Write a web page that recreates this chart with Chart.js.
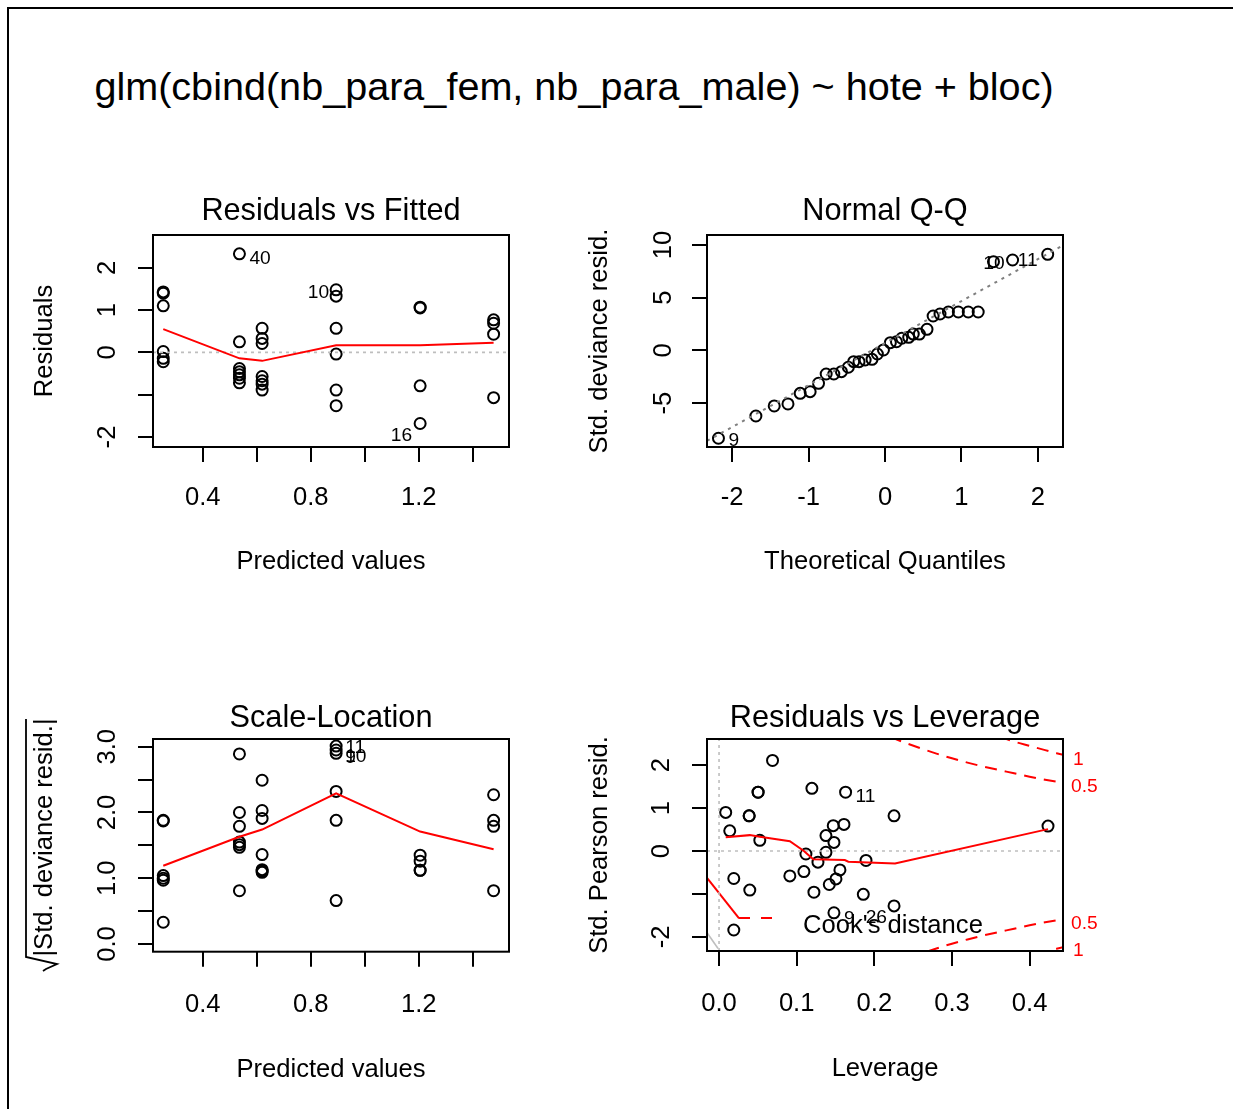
<!DOCTYPE html>
<html>
<head>
<meta charset="utf-8">
<title>glm diagnostics</title>
<script src="https://cdn.jsdelivr.net/npm/chart.js@4.4.1/dist/chart.umd.min.js"></script>
<style>
  html, body { margin:0; padding:0; background:#ffffff; }
  body { width:1233px; height:1109px; position:relative; overflow:hidden; font-family:"Liberation Sans", Arial, Helvetica, sans-serif; }
  #frame { position:absolute; left:7px; top:7px; width:1400px; height:1300px; border-left:2px solid #000; border-top:2px solid #000; box-sizing:border-box; }
  #mainTitle { position:absolute; left:0; top:63px; width:1148px; height:46px; line-height:46px; text-align:center; font-size:39.6px; white-space:nowrap; color:#000; }
  canvas.panel { position:absolute; left:0; top:0; }
</style>
</head>
<body>
<div id="frame"></div>
<div id="mainTitle">glm(cbind(nb_para_fem, nb_para_male) ~ hote + bloc)</div>
<canvas class="panel" id="p1" width="1233" height="1109"></canvas>
<canvas class="panel" id="p2" width="1233" height="1109"></canvas>
<canvas class="panel" id="p3" width="1233" height="1109"></canvas>
<canvas class="panel" id="p4" width="1233" height="1109"></canvas>
<script>
// ================= DATA =================
// Panel 1 & 3: fitted (predicted) values
const fittedValues = [
  0.254,0.254,0.254,0.254,0.254,0.254,
  0.536,0.536,0.536,0.536,0.536,0.536,0.536,
  0.620,0.620,0.620,0.620,0.620,0.620,0.620,
  0.894,0.894,0.894,0.894,0.894,0.894,
  1.205,1.205,1.205,1.205,
  1.477,1.477,1.477,1.477
];
const residualValues = [
  1.43,1.40,1.10,0.02,-0.14,-0.22,
  2.33,0.25,-0.38,-0.46,-0.53,-0.61,-0.72,
  0.57,0.33,0.21,-0.57,-0.67,-0.75,-0.89,
  1.48,1.33,0.57,-0.04,-0.89,-1.26,
  1.07,1.05,-0.79,-1.68,
  0.77,0.69,0.43,-1.07
];
const rfSmoothX = [0.254,0.536,0.620,0.894,1.205,1.477];
const rfSmoothY = [0.55,-0.14,-0.20,0.17,0.17,0.23];
const rfIdText = ['40','10','16'];
const rfIdX = [0.536,0.894,1.205];
const rfIdY = [2.33,1.48,-1.68];
const rfXTicks = [0.4,0.6,0.8,1.0,1.2,1.4];
const rfXTickLabels = ['0.4','','0.8','','1.2',''];
const rfYTicks = [-2,-1,0,1,2];
const rfYTickLabels = ['-2','','0','1','2'];

// Panel 2: Normal Q-Q
const qqTheoretical = [-2.18,-1.69,-1.45,-1.27,-1.11,-0.98,-0.87,-0.77,-0.67,-0.57,-0.48,-0.41,-0.34,-0.26,-0.17,-0.10,-0.02,
  0.07,0.15,0.22,0.31,0.37,0.45,0.55,0.63,0.72,0.83,0.96,1.09,1.22,1.42,1.67,2.13];
const qqStdDevResid = [-8.32,-6.21,-5.26,-5.07,-4.06,-3.90,-3.11,-2.23,-2.23,-2.01,-1.59,-1.06,-1.06,-0.90,-0.84,-0.33,0.05,
  0.74,0.83,1.16,1.25,1.56,1.56,2.01,3.27,3.46,3.65,3.65,3.65,3.65,8.42,8.58,9.12];
const qqLineX = [-2.33,2.33];
const qqLineY = [-8.57,9.97];
const qqIdText = ['9','10','11'];
const qqIdX = [-2.18,1.67,2.13];
const qqIdY = [-8.32,8.58,9.12];
const qqXTicks = [-2,-1,0,1,2];
const qqXTickLabels = ['-2','-1','0','1','2'];
const qqYTicks = [-5,0,5,10];
const qqYTickLabels = ['-5','0','5','10'];

// Panel 3: Scale-Location
const sqrtAbsStdResid = [
  1.88,1.87,1.04,1.00,0.97,0.33,
  2.89,2.00,1.79,1.55,1.51,1.47,0.81,
  2.49,2.03,1.91,1.36,1.13,1.11,1.09,
  3.01,2.95,2.90,2.32,1.88,0.66,
  1.35,1.26,1.12,1.12,
  2.27,1.88,1.79,0.81
];
const slSmoothX = [0.254,0.536,0.620,0.894,1.205,1.477];
const slSmoothY = [1.19,1.63,1.74,2.29,1.71,1.44];
const slIdText = ['11','10','9'];
const slIdX = [0.894,0.894,0.894];
const slIdY = [3.01,2.95,2.90];
const slYTicks = [0,0.5,1,1.5,2,2.5,3];
const slYTickLabels = ['0.0','','1.0','','2.0','','3.0'];

// Panel 4: Residuals vs Leverage
const leverageValues = [0.0086,0.0138,0.019,0.019,0.0388,0.0388,0.0396,0.0503,0.0503,0.0525,0.0689,0.0912,0.1093,0.1119,0.1196,0.1222,
  0.1274,0.1377,0.1377,0.142,0.1471,0.148,0.148,0.1506,0.1557,0.1609,0.163,0.1858,0.1893,0.2254,0.2254,0.4237];
const stdPearsonResid = [0.90,0.47,-0.64,-1.84,0.82,0.82,-0.91,1.37,1.37,0.25,2.11,-0.58,-0.48,-0.07,1.46,-0.96,
  -0.26,0.36,-0.03,-0.78,0.59,0.20,-1.44,-0.65,-0.44,0.62,1.37,-1.01,-0.22,0.82,-1.28,0.58];
const rlSmoothX = [0.0086,0.0396,0.0525,0.0912,0.1093,0.1213,0.162,0.1665,0.2267,0.4237];
const rlSmoothY = [0.32,0.37,0.33,0.23,0.0,-0.19,-0.21,-0.25,-0.29,0.51];
const cookHalfX = [0.22,0.24,0.26,0.28,0.30,0.32,0.34,0.36,0.38,0.40,0.42,0.443];
const cookHalfUpper = [2.66,2.52,2.39,2.27,2.16,2.06,1.97,1.89,1.81,1.73,1.66,1.59];
const cookHalfLower = [-2.66,-2.52,-2.39,-2.27,-2.16,-2.06,-1.97,-1.89,-1.81,-1.73,-1.66,-1.59];
const cookOneX = [0.36,0.38,0.40,0.42,0.443];
const cookOneUpper = [2.67,2.55,2.45,2.35,2.24];
const cookOneLower = [-2.67,-2.55,-2.45,-2.35,-2.24];
const cookLabelText = ['1','0.5','0.5','1'];
const cookLabelY = [2.12,1.50,-1.70,-2.33];
const rlRedStubX = [-0.0185,0.0258];
const rlRedStubY = [-0.56,-1.57];
const rlGrayStubX = [-0.0163,-0.0013];
const rlGrayStubY = [-1.88,-2.27];
const rlIdText = ['11','9','26'];
const rlIdX = [0.163,0.148,0.2254];
const rlIdY = [1.37,-1.44,-1.28];
const rlXTicks = [0,0.1,0.2,0.3,0.4];
const rlXTickLabels = ['0.0','0.1','0.2','0.3','0.4'];
const rlYTicks = [-2,-1,0,1,2];
const rlYTickLabels = ['-2','','0','1','2'];

// ================= DRAWING =================
const FONT = '"Liberation Sans", Arial, Helvetica, sans-serif';
const AX = 25.6, TITLE = 30.7, IDF = 19.2;
const RED = '#FF0000';
const YW = 140, XH = 150;

const pts = (xs, ys) => xs.map((x, i) => ({x: x, y: ys[i]}));
function circles(xs, ys) {
  return {data: pts(xs, ys), showLine: false, pointStyle: 'circle', pointRadius: 5.5, pointHoverRadius: 5.5,
    pointBorderWidth: 2, pointBorderColor: '#000', pointBackgroundColor: 'rgba(0,0,0,0)',
    borderColor: '#000', backgroundColor: 'rgba(0,0,0,0)', clip: false, order: 2};
}
function line(xs, ys, color, width, dash, smooth) {
  return {data: pts(xs, ys), showLine: true, pointRadius: 0, pointHoverRadius: 0, borderColor: color,
    backgroundColor: color, borderWidth: width, borderDash: dash || [], tension: 0,
    cubicInterpolationMode: smooth ? 'monotone' : 'default', fill: false, order: 1};
}

function makePanel(canvasId, c) {
  const decor = {
    id: 'decor_' + canvasId,
    afterDraw(chart) {
      const ctx = chart.ctx, ca = chart.chartArea;
      const xs = chart.scales.x, ys = chart.scales.y;
      ctx.save();
      ctx.setLineDash([]);
      ctx.strokeStyle = '#000'; ctx.lineWidth = 2;
      ctx.strokeRect(ca.left, ca.top, ca.right - ca.left, ca.bottom - ca.top);
      ctx.fillStyle = '#000';
      ctx.font = AX + 'px ' + FONT;
      ctx.textAlign = 'center'; ctx.textBaseline = 'middle';
      c.yTicks.forEach((v, i) => {
        const lab = c.yTickLabels[i];
        if (!lab) return;
        ctx.save();
        ctx.translate(c.yTickX, ys.getPixelForValue(v));
        ctx.rotate(-Math.PI / 2);
        ctx.fillText(lab, 0, 0);
        ctx.restore();
      });
      ctx.font = TITLE + 'px ' + FONT;
      ctx.fillText(c.title, (ca.left + ca.right) / 2, c.titleY);
      ctx.font = IDF + 'px ' + FONT;
      c.ids.forEach(l => {
        ctx.textAlign = l.dx < 0 ? 'right' : 'left';
        ctx.fillText(l.text, xs.getPixelForValue(l.x) + l.dx, ys.getPixelForValue(l.y) + l.dy);
      });
      if (c.extra) c.extra(ctx, chart);
      ctx.restore();
    }
  };
  const tickFont = {family: FONT, size: AX};
  return new Chart(document.getElementById(canvasId), {
    type: 'scatter',
    data: {datasets: c.datasets},
    options: {
      responsive: false, maintainAspectRatio: false, animation: false, devicePixelRatio: 1, events: [],
      layout: {autoPadding: false, padding: {left: c.L - YW, right: 1233 - c.R, top: c.T, bottom: 1109 - c.B - XH}},
      plugins: {legend: {display: false}, tooltip: {enabled: false}, title: {display: false}},
      scales: {
        x: {
          type: 'linear', position: 'bottom', min: c.xMin, max: c.xMax,
          afterBuildTicks: s => { s.ticks = c.xTicks.map(v => ({value: v})); },
          afterFit: s => { s.height = XH; },
          grid: {display: true, drawOnChartArea: false, drawTicks: true, tickLength: 15, color: '#000', lineWidth: 2},
          border: {display: false},
          ticks: {display: true, autoSkip: false, maxRotation: 0, minRotation: 0, padding: c.xLabelPad, color: '#000',
            font: tickFont, callback: (v, i) => c.xTickLabels[i]},
          title: {display: true, text: c.xTitle, color: '#000', font: tickFont, padding: {top: 0, bottom: c.xTitlePad}}
        },
        y: {
          type: 'linear', position: 'left', min: c.yMin, max: c.yMax,
          afterBuildTicks: s => { s.ticks = c.yTicks.map(v => ({value: v})); },
          afterFit: s => { s.width = YW; },
          grid: {display: true, drawOnChartArea: false, drawTicks: true, tickLength: 15, color: '#000', lineWidth: 2},
          border: {display: false},
          ticks: {display: false},
          title: c.yTitle ? {display: true, text: c.yTitle, color: '#000', font: tickFont, padding: {top: c.yTitlePad, bottom: 0}} : {display: false}
        }
      }
    },
    plugins: [decor]
  });
}

// Panel 1
makePanel('p1', {
  L: 153, R: 509, T: 235, B: 447,
  xMin: 0.216, xMax: 1.534, yMin: -2.236, yMax: 2.775,
  xTicks: rfXTicks, xTickLabels: rfXTickLabels, yTicks: rfYTicks, yTickLabels: rfYTickLabels,
  xLabelPad: 20.4, xTitle: 'Predicted values', xTitlePad: 19.3,
  yTitle: 'Residuals', yTitlePad: 45 - (153 - YW) - 15.36, yTickX: 107.5,
  title: 'Residuals vs Fitted', titleY: 212,
  ids: [
    {text: rfIdText[0], x: rfIdX[0], y: rfIdY[0], dx: 10, dy: 5},
    {text: rfIdText[1], x: rfIdX[1], y: rfIdY[1], dx: -7, dy: 3},
    {text: rfIdText[2], x: rfIdX[2], y: rfIdY[2], dx: -8, dy: 12}
  ],
  datasets: [
    circles(fittedValues, residualValues),
    line(rfSmoothX, rfSmoothY, RED, 2),
    line([0.216, 1.534], [0, 0], '#BEBEBE', 1.6, [3, 4])
  ]
});

// Panel 2
makePanel('p2', {
  L: 707, R: 1063, T: 235, B: 447,
  xMin: -2.33, xMax: 2.33, yMin: -9.15, yMax: 10.95,
  xTicks: qqXTicks, xTickLabels: qqXTickLabels, yTicks: qqYTicks, yTickLabels: qqYTickLabels,
  xLabelPad: 20.4, xTitle: 'Theoretical Quantiles', xTitlePad: 19.3,
  yTitle: 'Std. deviance resid.', yTitlePad: 600 - (707 - YW) - 15.36, yTickX: 663.5,
  title: 'Normal Q-Q', titleY: 212,
  ids: [
    {text: qqIdText[0], x: qqIdX[0], y: qqIdY[0], dx: 10, dy: 2},
    {text: qqIdText[1], x: qqIdX[1], y: qqIdY[1], dx: -8, dy: 4},
    {text: qqIdText[2], x: qqIdX[2], y: qqIdY[2], dx: -10, dy: 6}
  ],
  datasets: [
    circles(qqTheoretical, qqStdDevResid),
    line(qqLineX, qqLineY, '#7F7F7F', 2, [3, 5])
  ]
});

// Panel 3
makePanel('p3', {
  L: 153, R: 509, T: 739, B: 951.7,
  xMin: 0.216, xMax: 1.534, yMin: -0.1175, yMax: 3.1175,
  xTicks: rfXTicks, xTickLabels: rfXTickLabels, yTicks: slYTicks, yTickLabels: slYTickLabels,
  xLabelPad: 22.4, xTitlePad: 16.3, xTitle: 'Predicted values',
  yTitle: null, yTickX: 108,
  title: 'Scale-Location', titleY: 719,
  ids: [
    {text: slIdText[0], x: slIdX[0], y: slIdY[0], dx: 9, dy: 1.5},
    {text: slIdText[1], x: slIdX[1], y: slIdY[1], dx: 9, dy: 7},
    {text: slIdText[2], x: slIdX[2], y: slIdY[2], dx: 9, dy: 4}
  ],
  datasets: [
    circles(fittedValues, sqrtAbsStdResid),
    line(slSmoothX, slSmoothY, RED, 2)
  ],
  extra: (ctx, chart) => {
    ctx.fillStyle = '#000';
    ctx.font = AX + 'px ' + FONT;
    ctx.textAlign = 'center'; ctx.textBaseline = 'middle';
    ctx.save();
    ctx.translate(45, 837.5);
    ctx.rotate(-Math.PI / 2);
    ctx.fillText('|Std. deviance resid.|', 0, 0);
    ctx.restore();
    // radical sign with overbar
    ctx.strokeStyle = '#000'; ctx.lineWidth = 1.8; ctx.setLineDash([]);
    ctx.beginPath();
    ctx.moveTo(43, 971);
    ctx.lineTo(46, 969);
    ctx.lineTo(57, 964);
    ctx.lineTo(26, 957);
    ctx.lineTo(26, 719);
    ctx.stroke();
  }
});

// Panel 4
makePanel('p4', {
  L: 707, R: 1063, T: 739, B: 951,
  xMin: -0.0155, xMax: 0.443, yMin: -2.33, yMax: 2.61,
  xTicks: rlXTicks, xTickLabels: rlXTickLabels, yTicks: rlYTicks, yTickLabels: rlYTickLabels,
  xLabelPad: 22.4, xTitle: 'Leverage', xTitlePad: 16.3,
  yTitle: 'Std. Pearson resid.', yTitlePad: 600 - (707 - YW) - 15.36, yTickX: 662,
  title: 'Residuals vs Leverage', titleY: 719,
  ids: [
    {text: rlIdText[0], x: rlIdX[0], y: rlIdY[0], dx: 10, dy: 4},
    {text: rlIdText[1], x: rlIdX[1], y: rlIdY[1], dx: 10, dy: 6},
    {text: rlIdText[2], x: rlIdX[2], y: rlIdY[2], dx: -7, dy: 12}
  ],
  datasets: [
    circles(leverageValues, stdPearsonResid),
    line(rlSmoothX, rlSmoothY, RED, 2),
    line([-0.0155, 0.443], [0, 0], '#BEBEBE', 1.6, [3, 4]),
    line([0, 0], [-2.33, 2.61], '#BEBEBE', 1.6, [3, 4]),
    line(cookHalfX, cookHalfUpper, RED, 2, [12, 8], true),
    line(cookHalfX, cookHalfLower, RED, 2, [12, 8], true),
    line(cookOneX, cookOneUpper, RED, 2, [12, 8], true),
    line(cookOneX, cookOneLower, RED, 2, [12, 8], true),
    line(rlRedStubX, rlRedStubY, RED, 2),
    line(rlGrayStubX, rlGrayStubY, '#BEBEBE', 1.6)
  ],
  extra: (ctx, chart) => {
    const ca = chart.chartArea, ys = chart.scales.y;
    // legend
    ctx.strokeStyle = RED; ctx.lineWidth = 2; ctx.setLineDash([11, 11]);
    ctx.beginPath();
    ctx.moveTo(ca.left + 32, ca.bottom - 33);
    ctx.lineTo(ca.left + 66, ca.bottom - 33);
    ctx.stroke();
    ctx.setLineDash([]);
    ctx.fillStyle = '#000';
    ctx.font = AX + 'px ' + FONT;
    ctx.textAlign = 'left'; ctx.textBaseline = 'middle';
    ctx.fillText("Cook's distance", ca.left + 96, ca.bottom - 25);
    // contour labels
    ctx.fillStyle = RED;
    ctx.font = IDF + 'px ' + FONT;
    cookLabelText.forEach((t, i) => {
      ctx.fillText(t, ca.right + (t === '1' ? 10 : 8), ys.getPixelForValue(cookLabelY[i]));
    });
  }
});
</script>
</body>
</html>
